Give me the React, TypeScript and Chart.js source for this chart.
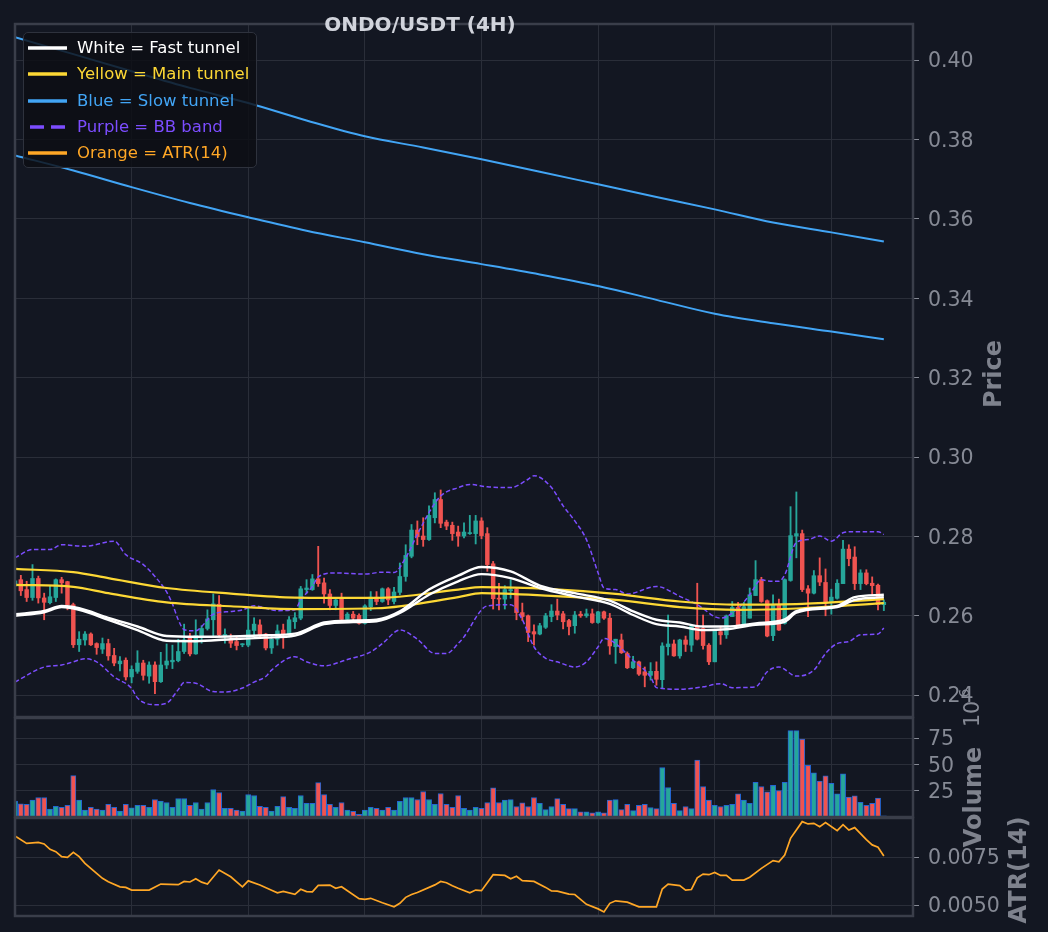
import React, { useEffect, useRef } from 'react';
import { Chart, registerables } from 'chart.js';

Chart.register(...registerables);

const FONT = '"DejaVu Sans", Verdana, sans-serif';
const BG = '#131722';
const GRID = '#2a2e39';
const SPINE = '#3a3e4a';
const TICK_COLOR = '#868a95';
const LABEL_COLOR = '#7e828d';
const UP = '#26a69a';
const DOWN = '#ef5350';
const W = 1048;
const H = 932;
const CANVAS_H = 1000; // taller than the page so the bottom panel is not pushed up

// x axis runs in candle index units
const X_MIN = 0;
const X_MAX = 154;
const xGridTicks = [20, 40, 60, 80, 100, 120, 140];

const priceTicks = [0.24, 0.26, 0.28, 0.3, 0.32, 0.34, 0.36, 0.38, 0.4];
const volumeTicks = [25, 50, 75];
const atrTicks = [0.005, 0.0075];

const PRICE_MIN = 0.2345;
const PRICE_MAX = 0.4091;
const VOL_MAX = 94;
const ATR_MIN = 0.00443;
const ATR_MAX = 0.00953;

// OHLC, 4H candles (index 0..149)
const opens = [
  0.2675, 0.2691, 0.2666, 0.2646, 0.2694, 0.2645, 0.2633, 0.2646, 0.2691, 0.2686,
  0.2628, 0.2527, 0.2539, 0.2554, 0.2530, 0.2516, 0.2530, 0.2500, 0.2479, 0.2488,
  0.2446, 0.2460, 0.2481, 0.2448, 0.2476, 0.2434, 0.2476, 0.2484, 0.2487, 0.2510,
  0.2547, 0.2504, 0.2550, 0.2568, 0.2590, 0.2629, 0.2550, 0.2542, 0.2535, 0.2527,
  0.2526, 0.2563, 0.2577, 0.2554, 0.2519, 0.2541, 0.2564, 0.2554, 0.2585, 0.2594,
  0.2666, 0.2666, 0.2693, 0.2683, 0.2655, 0.2626, 0.2642, 0.2591, 0.2604, 0.2601,
  0.2581, 0.2623, 0.2647, 0.2636, 0.2668, 0.2636, 0.2659, 0.2699, 0.2750, 0.2816,
  0.2801, 0.2792, 0.2847, 0.2893, 0.2836, 0.2828, 0.2811, 0.2801, 0.2807, 0.2807,
  0.2839, 0.2807, 0.2731, 0.2644, 0.2642, 0.2663, 0.2667, 0.2608, 0.2600, 0.2560,
  0.2554, 0.2571, 0.2598, 0.2612, 0.2605, 0.2588, 0.2575, 0.2604, 0.2600, 0.2605,
  0.2583, 0.2610, 0.2594, 0.2522, 0.2539, 0.2505, 0.2469, 0.2484, 0.2459, 0.2450,
  0.2460, 0.2439, 0.2522, 0.2529, 0.2499, 0.2539, 0.2526, 0.2573, 0.2568, 0.2526,
  0.2484, 0.2560, 0.2552, 0.2598, 0.2621, 0.2575, 0.2594, 0.2651, 0.2691, 0.2638,
  0.2550, 0.2628, 0.2581, 0.2689, 0.2801, 0.2807, 0.2668, 0.2657, 0.2701, 0.2684,
  0.2636, 0.2644, 0.2681, 0.2768, 0.2748, 0.2681, 0.2708, 0.2682, 0.2677, 0.2628,
];
const highs = [
  0.2692, 0.2702, 0.2687, 0.2729, 0.2700, 0.2657, 0.2674, 0.2693, 0.2697, 0.2687,
  0.2632, 0.2560, 0.2560, 0.2557, 0.2532, 0.2544, 0.2541, 0.2518, 0.2497, 0.2494,
  0.2474, 0.2512, 0.2488, 0.2484, 0.2484, 0.2508, 0.2529, 0.2526, 0.2541, 0.2579,
  0.2556, 0.2590, 0.2575, 0.2615, 0.2655, 0.2651, 0.2567, 0.2554, 0.2548, 0.2530,
  0.2621, 0.2595, 0.2590, 0.2556, 0.2553, 0.2577, 0.2579, 0.2598, 0.2608, 0.2674,
  0.2691, 0.2704, 0.2775, 0.2695, 0.2666, 0.2646, 0.2657, 0.2608, 0.2611, 0.2605,
  0.2628, 0.2661, 0.2661, 0.2670, 0.2671, 0.2672, 0.2733, 0.2779, 0.2830, 0.2839,
  0.2847, 0.2877, 0.2910, 0.2917, 0.2841, 0.2836, 0.2826, 0.2834, 0.2853, 0.2853,
  0.2847, 0.2822, 0.2737, 0.2682, 0.2676, 0.2691, 0.2670, 0.2632, 0.2602, 0.2577,
  0.2581, 0.2606, 0.2628, 0.2642, 0.2611, 0.2591, 0.2611, 0.2611, 0.2617, 0.2617,
  0.2611, 0.2612, 0.2606, 0.2541, 0.2554, 0.2509, 0.2498, 0.2486, 0.2471, 0.2482,
  0.2484, 0.2532, 0.2602, 0.2539, 0.2541, 0.2549, 0.2574, 0.2682, 0.2602, 0.2530,
  0.2564, 0.2573, 0.2602, 0.2636, 0.2634, 0.2634, 0.2670, 0.2739, 0.2697, 0.2640,
  0.2653, 0.2642, 0.2693, 0.2875, 0.2912, 0.2816, 0.2676, 0.2714, 0.2746, 0.2718,
  0.2667, 0.2691, 0.2790, 0.2779, 0.2774, 0.2716, 0.2716, 0.2698, 0.2680, 0.2640,
];
const lows = [
  0.2668, 0.2651, 0.2636, 0.2639, 0.2632, 0.2590, 0.2630, 0.2636, 0.2657, 0.2615,
  0.2520, 0.2510, 0.2526, 0.2525, 0.2503, 0.2505, 0.2488, 0.2474, 0.2461, 0.2438,
  0.2431, 0.2455, 0.2438, 0.2430, 0.2404, 0.2432, 0.2467, 0.2467, 0.2484, 0.2505,
  0.2499, 0.2503, 0.2531, 0.2564, 0.2548, 0.2548, 0.2531, 0.2520, 0.2514, 0.2522,
  0.2522, 0.2550, 0.2543, 0.2514, 0.2505, 0.2526, 0.2518, 0.2547, 0.2568, 0.2590,
  0.2657, 0.2664, 0.2674, 0.2632, 0.2615, 0.2615, 0.2590, 0.2583, 0.2585, 0.2579,
  0.2579, 0.2613, 0.2628, 0.2634, 0.2628, 0.2630, 0.2653, 0.2687, 0.2746, 0.2779,
  0.2775, 0.2790, 0.2834, 0.2822, 0.2817, 0.2790, 0.2775, 0.2796, 0.2805, 0.2781,
  0.2794, 0.2712, 0.2617, 0.2615, 0.2617, 0.2644, 0.2590, 0.2588, 0.2535, 0.2526,
  0.2552, 0.2568, 0.2585, 0.2590, 0.2567, 0.2552, 0.2556, 0.2596, 0.2596, 0.2581,
  0.2581, 0.2591, 0.2503, 0.2480, 0.2505, 0.2467, 0.2467, 0.2450, 0.2421, 0.2438,
  0.2425, 0.2417, 0.2501, 0.2498, 0.2493, 0.2510, 0.2510, 0.2539, 0.2516, 0.2477,
  0.2484, 0.2528, 0.2543, 0.2598, 0.2573, 0.2573, 0.2594, 0.2651, 0.2634, 0.2547,
  0.2537, 0.2563, 0.2579, 0.2687, 0.2746, 0.2661, 0.2598, 0.2655, 0.2676, 0.2600,
  0.2604, 0.2642, 0.2681, 0.2726, 0.2666, 0.2666, 0.2678, 0.2653, 0.2615, 0.2613,
];
const closes = [
  0.2688, 0.2663, 0.2646, 0.2694, 0.2645, 0.2634, 0.2648, 0.2691, 0.2683, 0.2628,
  0.2527, 0.2541, 0.2554, 0.2527, 0.2520, 0.2530, 0.2499, 0.2481, 0.2486, 0.2446,
  0.2465, 0.2481, 0.2450, 0.2476, 0.2434, 0.2476, 0.2486, 0.2488, 0.2510, 0.2539,
  0.2504, 0.2550, 0.2568, 0.2592, 0.2630, 0.2552, 0.2553, 0.2531, 0.2525, 0.2529,
  0.2564, 0.2579, 0.2552, 0.2519, 0.2541, 0.2562, 0.2554, 0.2590, 0.2595, 0.2668,
  0.2670, 0.2693, 0.2681, 0.2655, 0.2626, 0.2640, 0.2591, 0.2604, 0.2594, 0.2581,
  0.2625, 0.2647, 0.2636, 0.2668, 0.2640, 0.2660, 0.2699, 0.2752, 0.2816, 0.2799,
  0.2792, 0.2853, 0.2893, 0.2833, 0.2826, 0.2807, 0.2801, 0.2811, 0.2809, 0.2839,
  0.2802, 0.2729, 0.2643, 0.2642, 0.2666, 0.2666, 0.2608, 0.2598, 0.2558, 0.2554,
  0.2575, 0.2600, 0.2612, 0.2602, 0.2585, 0.2573, 0.2602, 0.2600, 0.2605, 0.2583,
  0.2610, 0.2594, 0.2524, 0.2541, 0.2507, 0.2469, 0.2484, 0.2453, 0.2450, 0.2460,
  0.2440, 0.2524, 0.2529, 0.2499, 0.2539, 0.2528, 0.2573, 0.2541, 0.2525, 0.2484,
  0.2562, 0.2552, 0.2600, 0.2621, 0.2575, 0.2623, 0.2653, 0.2691, 0.2636, 0.2549,
  0.2628, 0.2564, 0.2691, 0.2802, 0.2807, 0.2666, 0.2657, 0.2701, 0.2685, 0.2632,
  0.2647, 0.2682, 0.2768, 0.2744, 0.2681, 0.2708, 0.2681, 0.2676, 0.2628, 0.2634,
];

// volume in millions (axis offset 10^6)
const volumeM = [
  15.1, 12.6, 12.0, 16.0, 18.5, 18.5, 7.5, 10.1, 9.2, 11.0,
  39.3, 16.0, 6.6, 9.2, 7.5, 6.6, 12.0, 9.2, 5.7, 12.0,
  8.6, 11.0, 11.0, 9.2, 16.6, 15.1, 13.8, 9.2, 17.6, 17.6,
  11.0, 13.8, 7.5, 13.8, 26.1, 23.3, 8.2, 8.2, 6.6, 5.7,
  21.4, 20.4, 10.1, 9.2, 5.7, 10.1, 19.5, 9.2, 8.2, 20.4,
  12.9, 12.9, 32.7, 21.4, 12.0, 9.2, 13.8, 6.6, 5.3, 2.5,
  6.6, 9.2, 8.2, 6.6, 9.2, 6.6, 14.8, 18.5, 18.5, 16.6,
  24.2, 16.6, 12.0, 22.3, 12.0, 9.2, 20.4, 8.2, 6.6, 9.2,
  8.2, 13.8, 27.7, 13.8, 16.0, 16.5, 10.0, 13.5, 10.0, 18.5,
  13.0, 7.0, 10.0, 17.5, 12.0, 8.0, 8.0, 5.0, 5.0, 4.0,
  5.0, 4.0, 16.0, 16.5, 7.0, 12.0, 6.0, 11.0, 12.0, 9.0,
  8.0, 47.0, 28.0, 13.0, 6.0, 10.0, 8.0, 54.0, 29.0, 16.0,
  11.0, 10.0, 11.0, 12.0, 22.0, 16.0, 13.0, 33.0, 29.0, 24.0,
  30.0, 25.0, 33.0, 82.0, 82.0, 74.0, 49.0, 42.0, 34.0, 39.0,
  32.0, 22.0, 41.0, 19.0, 20.0, 14.0, 11.0, 13.0, 18.0, 1.0,
];

// Fast tunnel (white), read at these candle indices
const whiteIdx = [0, 5, 8, 11, 16, 21, 26, 31, 37, 43, 48, 53, 58, 62, 66, 71, 76, 80, 85, 90, 96, 102, 106, 110, 114, 118, 122, 127, 132, 134, 141, 144, 149];
const whiteUpper = [0.2604, 0.2612, 0.2625, 0.2619, 0.2595, 0.2573, 0.2549, 0.2547, 0.2548, 0.2551, 0.2555, 0.2583, 0.2588, 0.2590, 0.2611, 0.2666, 0.2701, 0.2723, 0.2712, 0.2676, 0.2657, 0.2638, 0.2611, 0.2590, 0.2583, 0.2573, 0.2573, 0.2581, 0.2591, 0.2612, 0.2625, 0.2647, 0.2653];
const whiteLower = [0.2600, 0.2609, 0.2622, 0.2615, 0.2590, 0.2564, 0.2537, 0.2536, 0.2541, 0.2545, 0.2550, 0.2579, 0.2584, 0.2586, 0.2607, 0.2653, 0.2687, 0.2705, 0.2695, 0.2670, 0.2649, 0.2630, 0.2602, 0.2579, 0.2573, 0.2564, 0.2566, 0.2577, 0.2585, 0.2608, 0.2622, 0.2640, 0.2647];

// Main tunnel (yellow)
const yellowIdx = [0, 10, 16, 26, 37, 48, 62, 76, 80, 92, 103, 114, 124, 135, 149];
const yellowUpper = [0.2718, 0.2710, 0.2695, 0.2670, 0.2656, 0.2646, 0.2645, 0.2666, 0.2672, 0.2667, 0.2655, 0.2636, 0.2628, 0.2630, 0.2642];
const yellowLower = [0.2678, 0.2673, 0.2657, 0.2634, 0.2624, 0.2617, 0.2619, 0.2647, 0.2657, 0.2650, 0.2640, 0.2622, 0.2615, 0.2619, 0.2632];

// Slow tunnel (blue)
const blueIdx = [0, 10, 20, 30, 40, 50, 60, 70, 80, 90, 100, 110, 120, 130, 140, 149];
const blueUpper = [0.4058, 0.4015, 0.3972, 0.3930, 0.3892, 0.3848, 0.3808, 0.3780, 0.3750, 0.3719, 0.3687, 0.3655, 0.3624, 0.3591, 0.3566, 0.3543];
const blueLower = [0.3760, 0.3722, 0.3680, 0.3640, 0.3604, 0.3570, 0.3541, 0.3511, 0.3486, 0.3460, 0.3431, 0.3396, 0.3361, 0.3337, 0.3316, 0.3297];

// Bollinger band (purple, dashed)
const bbUpperIdx = [0, 3, 6, 8, 12, 17, 19, 22, 24, 26, 27, 28, 29, 31, 32, 34, 37, 39, 41, 45, 48, 49, 51, 52, 55, 60, 63, 65, 67, 69, 71, 73, 76, 78, 81, 85, 88, 89, 92, 94, 96, 98, 100, 101, 103, 105, 110, 114, 117, 121, 124, 126, 128, 129, 131, 132, 134, 136, 138, 140, 142, 144, 148, 149];
const bbUpper = [0.2746, 0.2767, 0.2767, 0.2779, 0.2775, 0.2788, 0.2754, 0.2729, 0.2699, 0.2660, 0.2630, 0.2590, 0.2565, 0.2562, 0.2573, 0.2604, 0.2611, 0.2615, 0.2625, 0.2613, 0.2615, 0.2640, 0.2674, 0.2698, 0.2708, 0.2705, 0.2710, 0.2709, 0.2746, 0.2805, 0.2860, 0.2902, 0.2923, 0.2931, 0.2925, 0.2923, 0.2944, 0.2953, 0.2923, 0.2877, 0.2839, 0.2792, 0.2708, 0.2670, 0.2666, 0.2655, 0.2674, 0.2649, 0.2628, 0.2594, 0.2619, 0.2653, 0.2691, 0.2688, 0.2687, 0.2703, 0.2785, 0.2792, 0.2801, 0.2788, 0.2809, 0.2812, 0.2812, 0.2805];
const bbLowerIdx = [0, 5, 8, 10, 12, 14, 17, 20, 21, 24, 26, 28, 29, 31, 34, 36, 39, 41, 43, 44, 48, 50, 53, 57, 61, 63, 66, 69, 72, 74, 76, 77, 80, 81, 85, 87, 89, 91, 93, 96, 98, 100, 101, 103, 106, 109, 110, 114, 118, 121, 123, 127, 129, 131, 134, 137, 139, 141, 143, 145, 148, 149];
const bbLower = [0.2433, 0.2471, 0.2476, 0.2484, 0.2492, 0.2484, 0.2446, 0.2417, 0.2393, 0.2376, 0.2380, 0.2414, 0.2432, 0.2430, 0.2409, 0.2408, 0.2418, 0.2433, 0.2447, 0.2463, 0.2497, 0.2484, 0.2474, 0.2490, 0.2509, 0.2530, 0.2564, 0.2541, 0.2505, 0.2505, 0.2530, 0.2547, 0.2615, 0.2625, 0.2628, 0.2590, 0.2522, 0.2493, 0.2484, 0.2471, 0.2484, 0.2522, 0.2543, 0.2530, 0.2488, 0.2446, 0.2419, 0.2415, 0.2421, 0.2429, 0.2419, 0.2421, 0.2459, 0.2471, 0.2448, 0.2463, 0.2505, 0.2530, 0.2535, 0.2552, 0.2554, 0.2569];

// ATR(14)
const atrIdx = [0, 2, 4, 5, 6, 7, 8, 9, 10, 11, 12, 14, 15, 16, 18, 19, 20, 23, 25, 28, 29, 30, 31, 32, 33, 35, 37, 39, 40, 42, 44, 45, 46, 48, 49, 50, 51, 52, 54, 55, 56, 59, 60, 61, 63, 65, 66, 67, 68, 69, 72, 73, 74, 75, 76, 78, 79, 80, 82, 84, 85, 86, 87, 89, 91, 92, 93, 94, 95, 96, 98, 100, 101, 102, 103, 105, 107, 110, 111, 112, 114, 115, 116, 117, 118, 119, 120, 121, 122, 123, 125, 126, 128, 130, 131, 132, 133, 135, 136, 137, 138, 139, 141, 142, 143, 144, 146, 147, 148, 149];
const atrVal = [0.00859, 0.00821, 0.00826, 0.00818, 0.00790, 0.00778, 0.00752, 0.00748, 0.00774, 0.00752, 0.00717, 0.00665, 0.00639, 0.00621, 0.00595, 0.00592, 0.00578, 0.00578, 0.00609, 0.00606, 0.00623, 0.00620, 0.00637, 0.00619, 0.00609, 0.00682, 0.00647, 0.00595, 0.00626, 0.00604, 0.00577, 0.00564, 0.00571, 0.00556, 0.00582, 0.00570, 0.00569, 0.00602, 0.00604, 0.00587, 0.00595, 0.00533, 0.00530, 0.00535, 0.00512, 0.00491, 0.00509, 0.00540, 0.00555, 0.00565, 0.00605, 0.00623, 0.00616, 0.00600, 0.00587, 0.00564, 0.00578, 0.00575, 0.00658, 0.00654, 0.00637, 0.00650, 0.00627, 0.00623, 0.00592, 0.00573, 0.00572, 0.00565, 0.00557, 0.00555, 0.00504, 0.00480, 0.00464, 0.00509, 0.00522, 0.00515, 0.00491, 0.00491, 0.00583, 0.00609, 0.00601, 0.00578, 0.00581, 0.00642, 0.00661, 0.00658, 0.00670, 0.00654, 0.00654, 0.00630, 0.00630, 0.00645, 0.00691, 0.00731, 0.00725, 0.00760, 0.00847, 0.00934, 0.00922, 0.00925, 0.00908, 0.00929, 0.00887, 0.00918, 0.00890, 0.00903, 0.00840, 0.00813, 0.00801, 0.00755];

const legendEntries = [
  { text: 'White = Fast tunnel', color: '#ffffff', dashed: false },
  { text: 'Yellow = Main tunnel', color: '#fdd835', dashed: false },
  { text: 'Blue = Slow tunnel', color: '#42a5f5', dashed: false },
  { text: 'Purple = BB band', color: '#7c4dff', dashed: true },
  { text: 'Orange = ATR(14)', color: '#ffa726', dashed: false },
];

// panel geometry (pixels)
const PLOT_LEFT = 15;
const PLOT_RIGHT = 913;
const AXIS_W = W - PLOT_RIGHT;

const candleColors = opens.map((o, i) => (closes[i] >= o ? UP : DOWN));

const pts = (idx: number[], vals: number[]) => idx.map((x, k) => ({ x, y: vals[k] }));

const framePlugin = {
  id: 'frame',
  afterDraw(chart: any) {
    const { ctx, chartArea: a } = chart;
    ctx.save();
    ctx.strokeStyle = SPINE;
    ctx.lineWidth = 2.5;
    ctx.strokeRect(a.left, a.top, a.right - a.left, a.bottom - a.top);
    ctx.restore();
  },
};

// rotated axis labels, read bottom-to-top like matplotlib
const sideTextPlugin = {
  id: 'sideText',
  afterDraw(chart: any, _args: any, opts: any) {
    const { ctx } = chart;
    (opts.items || []).forEach((it: any) => {
      ctx.save();
      ctx.translate(it.x, it.y);
      ctx.rotate(-Math.PI / 2);
      ctx.font = `${it.bold ? 'bold ' : ''}${it.size}px ${FONT}`;
      ctx.fillStyle = it.color;
      ctx.textAlign = 'center';
      ctx.textBaseline = 'middle';
      ctx.fillText(it.text, 0, 0);
      ctx.restore();
    });
  },
};

const xScale = () => ({
  type: 'linear',
  min: X_MIN,
  max: X_MAX,
  offset: false,
  ticks: { display: false },
  grid: { color: GRID, lineWidth: 1, drawTicks: false, offset: false },
  border: { display: false },
  afterBuildTicks: (s: any) => { s.ticks = xGridTicks.map((v) => ({ value: v })); },
  afterFit: (s: any) => { s.height = 0; },
});

const yScale = (min: number, max: number, ticks: number[], fmt: (v: number) => string) => ({
  type: 'linear',
  position: 'right',
  min,
  max,
  beginAtZero: false,
  afterBuildTicks: (s: any) => { s.ticks = ticks.map((v) => ({ value: v })); },
  afterFit: (s: any) => { s.width = AXIS_W; },
  ticks: {
    color: TICK_COLOR,
    font: { family: FONT, size: 20.5 },
    padding: 9,
    labelOffset: 2,
    callback: (v: any) => fmt(Number(v)),
  },
  grid: { color: GRID, lineWidth: 1, tickColor: TICK_COLOR, tickLength: 6 },
  border: { display: false },
});

const baseOptions = (top: number, bottom: number, side: any[]) => ({
  responsive: false,
  maintainAspectRatio: false,
  animation: false,
  events: [],
  layout: { padding: { left: PLOT_LEFT, right: 0, top, bottom: CANVAS_H - bottom } },
  plugins: {
    legend: { display: false },
    tooltip: { enabled: false },
    sideText: { items: side },
  },
});

const lineDs = (idx: number[], vals: number[], color: string, width: number, order: number, dash: number[] = []) => ({
  type: 'line',
  data: pts(idx, vals),
  borderColor: color,
  borderWidth: width,
  borderDash: dash,
  pointRadius: 0,
  cubicInterpolationMode: 'monotone',
  order,
});

export default function App() {
  const priceRef = useRef<HTMLCanvasElement>(null);
  const volRef = useRef<HTMLCanvasElement>(null);
  const atrRef = useRef<HTMLCanvasElement>(null);

  useEffect(() => {
    const charts: Chart[] = [];

    if (priceRef.current) {
      charts.push(new Chart(priceRef.current, {
        type: 'bar',
        data: {
          datasets: [
            {
              type: 'bar',
              data: opens.map((_, i) => ({ x: i, y: [lows[i], highs[i]] })),
              backgroundColor: candleColors,
              barThickness: 1.2,
              grouped: false,
              order: 11,
            },
            {
              type: 'bar',
              data: opens.map((o, i) => ({ x: i, y: [o, closes[i]] })),
              backgroundColor: candleColors,
              barThickness: 3.8,
              minBarLength: 1,
              grouped: false,
              order: 10,
            },
            lineDs(blueIdx, blueUpper, '#42a5f5', 2, 5),
            lineDs(blueIdx, blueLower, '#42a5f5', 2, 5),
            lineDs(bbUpperIdx, bbUpper, '#7c4dff', 1.5, 4, [4.5, 2.5]),
            lineDs(bbLowerIdx, bbLower, '#7c4dff', 1.5, 4, [4.5, 2.5]),
            lineDs(yellowIdx, yellowUpper, '#fdd835', 2.2, 3),
            lineDs(yellowIdx, yellowLower, '#fdd835', 2.2, 3),
            lineDs(whiteIdx, whiteUpper, '#ffffff', 2.4, 2),
            lineDs(whiteIdx, whiteLower, '#ffffff', 2.4, 2),
          ] as any,
        },
        options: {
          ...baseOptions(24, 717, [
            { text: 'Price', x: 995, y: 374, size: 24, bold: true, color: LABEL_COLOR },
          ]),
          scales: {
            x: xScale(),
            y: yScale(PRICE_MIN, PRICE_MAX, priceTicks, (v) => v.toFixed(2)),
          },
        } as any,
        plugins: [framePlugin, sideTextPlugin],
      }));
    }

    if (volRef.current) {
      charts.push(new Chart(volRef.current, {
        type: 'bar',
        data: {
          datasets: [
            {
              data: volumeM.map((v, i) => ({ x: i, y: v })),
              backgroundColor: candleColors,
              borderColor: 'rgba(41,121,255,0.8)',
              borderWidth: 1,
              barThickness: 5.2,
              grouped: false,
            },
          ] as any,
        },
        options: {
          ...baseOptions(718, 817, [
            { text: 'Volume', x: 975, y: 797, size: 24, bold: true, color: LABEL_COLOR },
            { text: '10', x: 974, y: 714, size: 20.5, bold: false, color: TICK_COLOR },
            { text: '6', x: 965, y: 693, size: 14, bold: false, color: TICK_COLOR },
          ]),
          scales: {
            x: xScale(),
            y: yScale(0, VOL_MAX, volumeTicks, (v) => String(Math.round(v))),
          },
        } as any,
        plugins: [framePlugin, sideTextPlugin],
      }));
    }

    if (atrRef.current) {
      charts.push(new Chart(atrRef.current, {
        type: 'line',
        data: {
          datasets: [
            {
              data: pts(atrIdx, atrVal),
              borderColor: '#ffa726',
              borderWidth: 1.7,
              pointRadius: 0,
              tension: 0,
            },
          ] as any,
        },
        options: {
          ...baseOptions(818, 916, [
            { text: 'ATR(14)', x: 1020, y: 870, size: 24, bold: true, color: LABEL_COLOR },
          ]),
          scales: {
            x: xScale(),
            y: yScale(ATR_MIN, ATR_MAX, atrTicks, (v) => v.toFixed(4)),
          },
        } as any,
        plugins: [framePlugin, sideTextPlugin],
      }));
    }

    return () => {
      charts.forEach((c) => c.destroy());
    };
  }, []);

  const canvasStyle: React.CSSProperties = { position: 'absolute', left: 0, top: 0, width: W, height: CANVAS_H };

  return (
    <div style={{ position: 'fixed', left: 0, top: 0, width: W, height: H, background: BG, overflow: 'hidden', fontFamily: FONT }}>
      <canvas ref={priceRef} width={W} height={CANVAS_H} style={canvasStyle} />
      <canvas ref={volRef} width={W} height={CANVAS_H} style={canvasStyle} />
      <canvas ref={atrRef} width={W} height={CANVAS_H} style={canvasStyle} />

      <div
        style={{
          position: 'absolute', left: 420, top: 24, transform: 'translate(-50%, -50%)',
          color: '#d1d4dc', fontWeight: 'bold', fontSize: 20, whiteSpace: 'nowrap',
        }}
      >
        ONDO/USDT (4H)
      </div>

      <div
        style={{
          position: 'absolute', left: 23, top: 32, width: 234, height: 136,
          background: 'rgba(12,14,19,0.82)', border: '1px solid #2e323d', borderRadius: 5,
          boxSizing: 'border-box',
        }}
      >
        {legendEntries.map((e, k) => (
          <div key={e.text} style={{ position: 'absolute', left: 0, top: 15 + k * 26.3 - 12, height: 24, width: 232 }}>
            <svg width={42} height={24} style={{ position: 'absolute', left: 3, top: 0 }}>
              {e.dashed ? (
                <line x1={3} y1={12} x2={41} y2={12} stroke={e.color} strokeWidth={3.5} strokeDasharray="14 7" />
              ) : (
                <line x1={1} y1={12} x2={40} y2={12} stroke={e.color} strokeWidth={3.5} />
              )}
            </svg>
            <span style={{ position: 'absolute', left: 53, top: 0, lineHeight: '24px', fontSize: 16.5, color: e.color, whiteSpace: 'nowrap' }}>
              {e.text}
            </span>
          </div>
        ))}
      </div>
    </div>
  );
}
